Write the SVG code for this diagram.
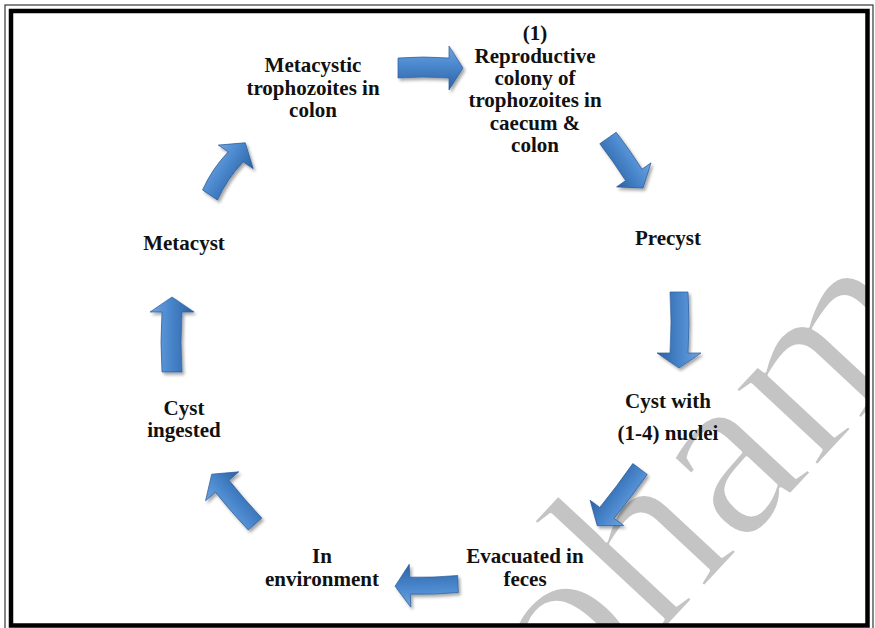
<svg xmlns="http://www.w3.org/2000/svg" width="875" height="628" viewBox="0 0 875 628">
<defs>
<style>
.lbl{font-family:"Liberation Serif","Times New Roman",serif;font-weight:bold;font-size:21px;fill:#111;text-anchor:middle}
.arr{fill:url(#ag);stroke:#2b5c9b;stroke-width:0.7}
.wm{font-family:"Liberation Serif","Times New Roman",serif;font-size:245px;fill:#c4c4c4;stroke:#fff;stroke-width:3.5;stroke-linejoin:round}
</style>
<linearGradient id="ag" x1="0" y1="0" x2="0" y2="1">
<stop offset="0" stop-color="#6ea4e0"/>
<stop offset="0.45" stop-color="#4a87cd"/>
<stop offset="1" stop-color="#2c61a3"/>
</linearGradient>
<filter id="sh" x="-30%" y="-30%" width="160%" height="160%">
<feDropShadow dx="2" dy="2.5" stdDeviation="1.6" flood-color="#000" flood-opacity="0.35"/>
</filter>
<clipPath id="inner"><rect x="11" y="11" width="856" height="614"/></clipPath>
</defs>
<rect width="875" height="628" fill="#fff"/>
<g id="watermark" clip-path="url(#inner)">
<text class="wm" transform="translate(424,888) rotate(-47)">Mohammed</text>
</g>
<g id="frame" fill="none">
<rect x="5" y="5" width="868" height="630" stroke="#444" stroke-width="1.3"/>
<rect x="11" y="11" width="856.5" height="614.5" stroke="#000" stroke-width="4.5"/>
</g>
<g id="connectors">
<g filter="url(#sh)"><path class="arr" transform="translate(398,68)" d="M0,-10 Q25,-12 51,-10 L51,-22 L65,0 L51,22 L51,10 Q25,8 0,10 Z"/></g>
<g filter="url(#sh)"><path class="arr" transform="translate(608,138) rotate(55)" d="M0,-10 Q22,-11 45,-10 L45,-21 L61,0 L45,21 L45,10 Q22,9 0,10 Z"/></g>
<g filter="url(#sh)"><path class="arr" transform="translate(679,292) rotate(90)" d="M0,-9 Q30,-11 61,-9 L61,-22 L76,0 L61,22 L61,9 Q30,7 0,9 Z"/></g>
<g filter="url(#sh)"><path class="arr" transform="translate(640,469) rotate(127)" d="M0,-9 Q27,-10 55,-9 L55,-21 L71,0 L55,21 L55,9 Q27,8 0,9 Z"/></g>
<g filter="url(#sh)"><path class="arr" transform="translate(458,584) rotate(178)" d="M0,-8.5 Q24,-10 48,-8.5 L48,-21.5 L63,0 L48,21.5 L48,8.5 Q24,7 0,8.5 Z"/></g>
<g filter="url(#sh)"><path class="arr" transform="translate(255,524) rotate(-131)" d="M0,-9 Q25,-10 50,-9 L50,-22 L66,0 L50,22 L50,9 Q25,8 0,9 Z"/></g>
<g filter="url(#sh)"><path class="arr" transform="translate(172,372) rotate(-90)" d="M0,-10 Q30,-12 60,-10 L60,-22 L75,0 L60,22 L60,10 Q30,8 0,10 Z"/></g>
<g filter="url(#sh)"><path class="arr" transform="translate(210,195) rotate(-56)" d="M0,-9 Q23,-13 46,-9 L46,-21 L63,0 L46,21 L46,9 Q23,5 0,9 Z"/></g>
</g>
<g id="n-metacystic-trophozoites">
<text class="lbl" x="313" y="72">Metacystic</text>
<text class="lbl" x="313" y="95">trophozoites in</text>
<text class="lbl" x="313" y="117">colon</text>
</g>
<g id="n-reproductive-colony">
<text class="lbl" x="535" y="40">(1)</text>
<text class="lbl" x="535" y="63">Reproductive</text>
<text class="lbl" x="535" y="85">colony of</text>
<text class="lbl" x="535" y="107">trophozoites in</text>
<text class="lbl" x="535" y="130">caecum &amp;</text>
<text class="lbl" x="535" y="152">colon</text>
</g>
<g id="n-precyst">
<text class="lbl" x="668" y="245">Precyst</text>
</g>
<g id="n-cyst-nuclei">
<text class="lbl" x="668" y="408">Cyst with</text>
<text class="lbl" x="668" y="440">(1-4) nuclei</text>
</g>
<g id="n-evacuated">
<text class="lbl" x="525" y="563">Evacuated in</text>
<text class="lbl" x="525" y="586">feces</text>
</g>
<g id="n-environment">
<text class="lbl" x="322" y="563">In</text>
<text class="lbl" x="322" y="586">environment</text>
</g>
<g id="n-cyst-ingested">
<text class="lbl" x="184" y="415">Cyst</text>
<text class="lbl" x="184" y="437">ingested</text>
</g>
<g id="n-metacyst">
<text class="lbl" x="184" y="250">Metacyst</text>
</g>
</svg>
